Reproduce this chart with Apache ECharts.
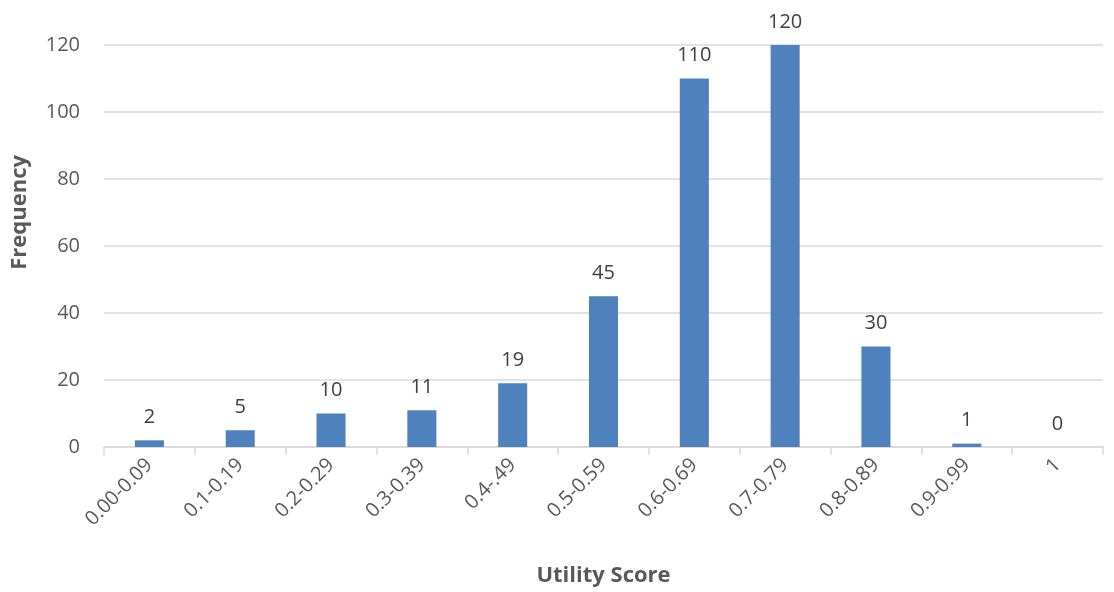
<!DOCTYPE html>
<html>
<head>
<meta charset="utf-8">
<script src="https://cdn.jsdelivr.net/npm/echarts@6/dist/echarts.min.js"></script>
<style>
  html, body { margin: 0; padding: 0; background: #fff; }
  #chart { width: 1114px; height: 592px; }
</style>
</head>
<body>
<div id="chart"></div>
<script>
// Utility score bins and how many respondents fall in each
const categories = ['0.00-0.09', '0.1-0.19', '0.2-0.29', '0.3-0.39', '0.4-.49', '0.5-0.59', '0.6-0.69', '0.7-0.79', '0.8-0.89', '0.9-0.99', '1'];
const frequency = [2, 5, 10, 11, 19, 45, 110, 120, 30, 1, 0];
const yTicks = { min: 0, max: 120, interval: 20 };

const FONT = '"Open Sans", "Liberation Sans", sans-serif';
const GREY = '#595959';
const chart = echarts.init(document.getElementById('chart'), null, { renderer: 'canvas' });

chart.setOption({
  animation: false,
  backgroundColor: '#ffffff',
  grid: { left: 104, right: 11, top: 45, bottom: 145, containLabel: false, outerBoundsMode: 'none' },
  // vertical axis title, sitting a little above the plot's middle
  graphic: [{
    type: 'text',
    left: 9,
    top: 155,
    rotation: Math.PI / 2,
    style: {
      text: 'Frequency',
      font: 'bold 22px ' + FONT,
      fill: GREY
    }
  }],
  xAxis: {
    type: 'category',
    data: categories,
    name: 'Utility Score',
    nameLocation: 'middle',
    nameGap: 118,
    nameTextStyle: { fontFamily: FONT, fontSize: 22, fontWeight: 'bold', color: GREY },
    axisLine: { lineStyle: { color: '#d9d9d9', width: 1.5 } },
    axisTick: { show: true, length: 8, alignWithLabel: false, lineStyle: { color: '#d9d9d9', width: 1.5 } },
    axisLabel: { rotate: 45, margin: 15, fontFamily: FONT, fontSize: 20, color: GREY }
  },
  yAxis: {
    type: 'value',
    min: yTicks.min,
    max: yTicks.max,
    interval: yTicks.interval,
    axisLine: { show: false },
    axisTick: { show: false },
    splitLine: { lineStyle: { color: '#d9d9d9', width: 1.5 } },
    axisLabel: { margin: 24, fontFamily: FONT, fontSize: 20, color: GREY }
  },
  series: [{
    type: 'bar',
    data: frequency,
    barWidth: '32%',
    itemStyle: { color: '#4f81bd' },
    label: {
      show: true,
      position: 'top',
      distance: 13,
      fontFamily: FONT,
      fontSize: 20,
      color: '#404040'
    }
  }]
});
</script>
</body>
</html>
